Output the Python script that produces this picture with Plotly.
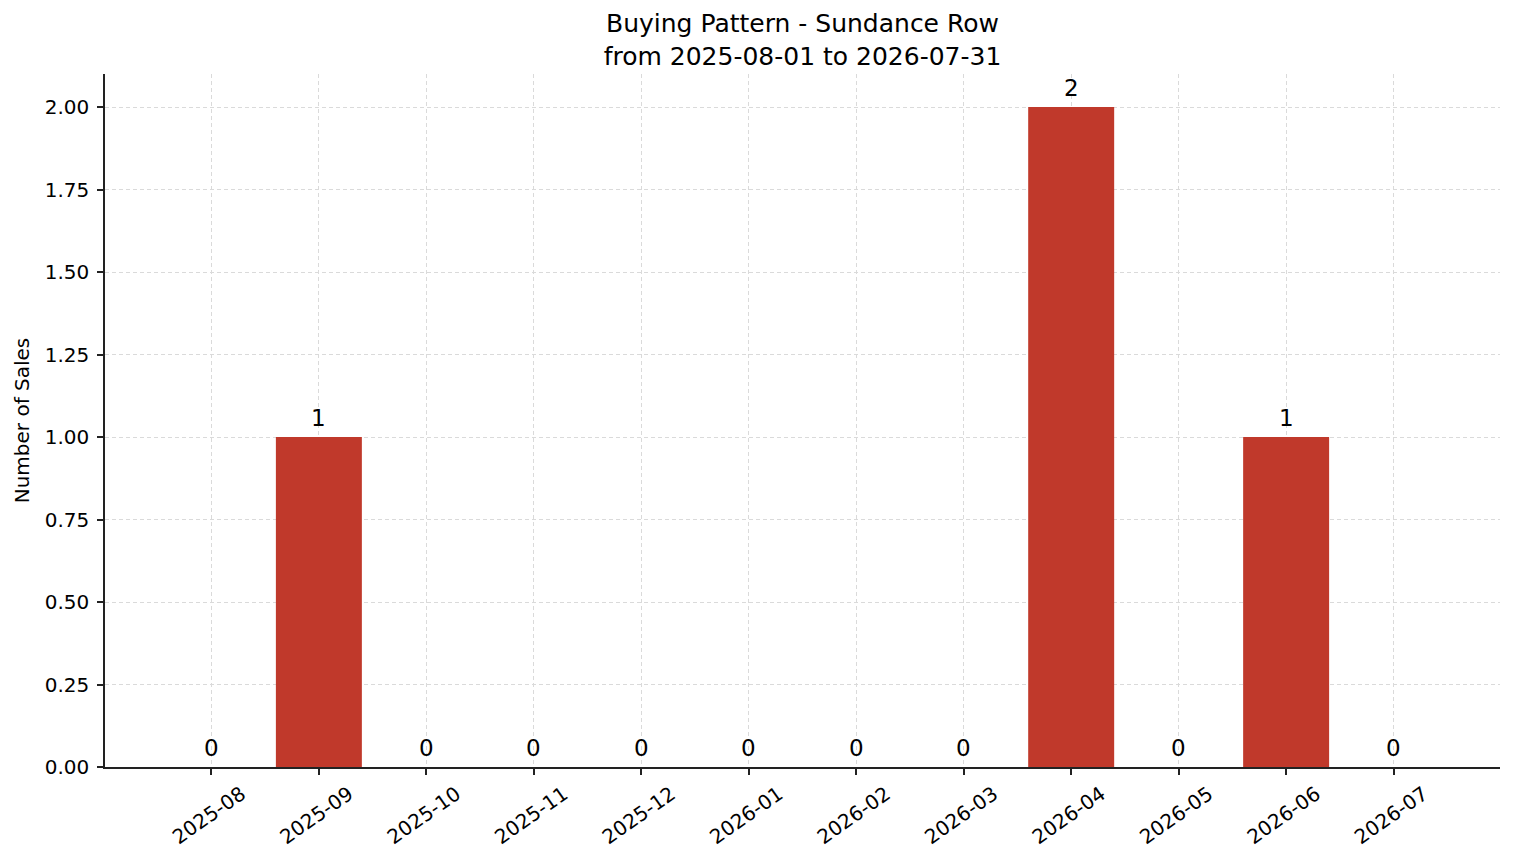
import plotly.graph_objects as go

months = ['2025-08', '2025-09', '2025-10', '2025-11', '2025-12', '2026-01',
          '2026-02', '2026-03', '2026-04', '2026-05', '2026-06', '2026-07']
sales = [0, 1, 0, 0, 0, 0, 0, 0, 2, 0, 1, 0]
yticks = [0, 0.25, 0.5, 0.75, 1.0, 1.25, 1.5, 1.75, 2.0]

font = 'DejaVu Sans'

fig = go.Figure()
fig.add_trace(go.Bar(x=months, y=sales, width=0.8, marker_color='#c0392b',
                     marker_line_width=0, showlegend=False, hoverinfo='skip'))

# value labels above each bar
for m, v in zip(months, sales):
    fig.add_annotation(x=m, y=v, text=str(v), showarrow=False, yanchor='bottom',
                       yshift=4, font=dict(family=font, size=23, color='black'))

fig.update_layout(
    width=1514, height=863,
    paper_bgcolor='white', plot_bgcolor='white',
    margin=dict(l=97, r=22, t=66, b=104),
    title=dict(text='Buying Pattern - Sundance Row<br>from 2025-08-01 to 2026-07-31',
               xref='paper', x=0.5, xanchor='center',
               yref='container', y=1 - 24 / 863, yanchor='middle',
               font=dict(family=font, size=25, color='black')),
    font=dict(family=font, size=20, color='black'),
)
fig.update_xaxes(type='category', range=[-0.99, 11.99],
                 showline=True, linecolor='#222', linewidth=1.5,
                 ticks='outside', ticklen=6, tickwidth=1.5, tickcolor='#222',
                 tickangle=-35, tickfont=dict(family=font, size=20), ticklabelshift=30,
                 showgrid=True, gridcolor='#dadada', griddash='4px,3px', gridwidth=1,
                 layer='above traces', zeroline=False)
fig.update_yaxes(range=[0, 2.1], tickvals=yticks, ticktext=['%.2f' % v for v in yticks],
                 showline=True, linecolor='#222', linewidth=1.5,
                 ticks='outside', ticklen=6, tickwidth=1.5, tickcolor='#222',
                 tickfont=dict(family=font, size=20), ticklabelstandoff=4,
                 showgrid=True, gridcolor='#dadada', griddash='4px,3px', gridwidth=1,
                 zeroline=False, layer='above traces',
                 title=dict(text='Number of Sales', font=dict(family=font, size=20), standoff=10))

fig.write_html('out.html')
